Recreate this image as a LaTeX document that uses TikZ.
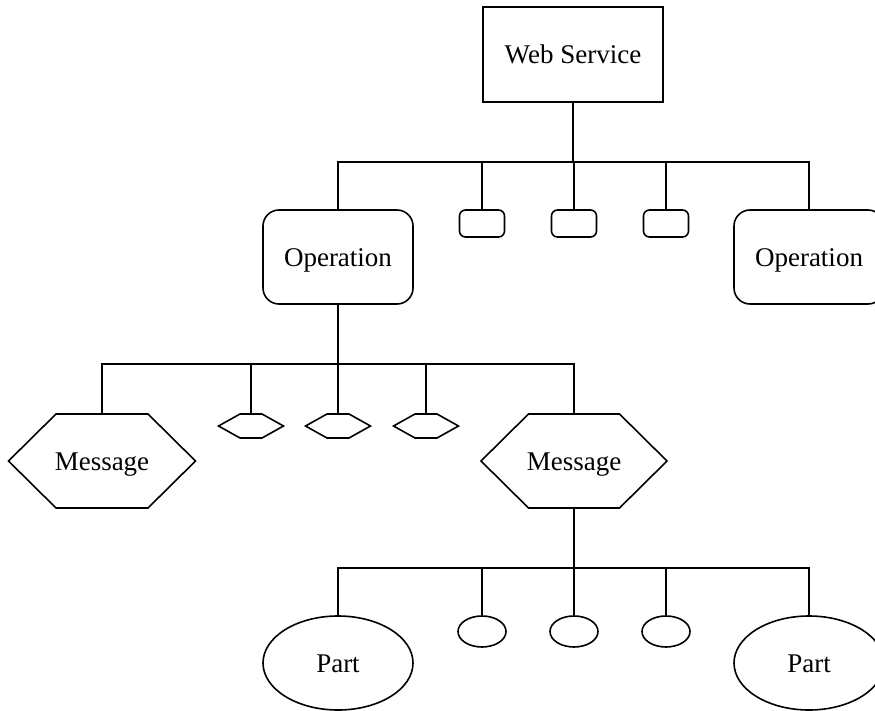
\documentclass[tikz,border=0pt]{standalone}
\usepackage{fontspec}
\setmainfont{Liberation Serif}
\usetikzlibrary{shapes.geometric}

% hexagon outline round an invisible node: name, half width, half height, half top edge
\newcommand\hexoutline[4]{%
  \draw[wire, shift={(#1.center)}]
    (-#2,0) -- (-#4,-#3) -- (#4,-#3) -- (#2,0) -- (#4,#3) -- (-#4,#3) -- cycle;}

\tikzset{
  wire/.style={line width=1.6pt, line join=miter},
  lbl/.style={font=\fontsize{27}{31}\selectfont, text height=18pt, text depth=0pt, inner sep=0pt},
  svcbox/.style={wire, draw, rectangle, minimum width=180pt, minimum height=95pt, lbl},
  opbox/.style={wire, draw, rectangle, rounded corners=16pt, minimum width=150pt, minimum height=94pt, lbl},
  opstub/.style={wire, draw, rectangle, rounded corners=6pt, minimum width=45pt, minimum height=27pt, inner sep=0pt},
  msghex/.style={lbl, minimum width=187pt, minimum height=94pt},
  msgstub/.style={inner sep=0pt, minimum width=65pt, minimum height=24pt},
  partell/.style={wire, draw, ellipse, minimum width=150pt, minimum height=94pt, lbl},
  partstub/.style={wire, draw, ellipse, minimum width=48pt, minimum height=31pt, inner sep=0pt},
}

\begin{document}
\begin{tikzpicture}[x=1pt, y=-1pt]
\useasboundingbox (0,0) rectangle (875,711);
\clip (0,0) rectangle (875,711);

% service level
\node[svcbox] (ws) at (573,54.5) {Web Service};

% operation level
\node[opbox]  (opL) at (338,257) {Operation};
\node[opstub] (o1)  at (482,223.5) {};
\node[opstub] (o2)  at (574,223.5) {};
\node[opstub] (o3)  at (666,223.5) {};
\node[opbox]  (opR) at (809,257) {Operation};

% message level
\node[msghex]  (mL) at (102,461) {Message};
\node[msgstub] (m1) at (251,426) {};
\node[msgstub] (m2) at (338,426) {};
\node[msgstub] (m3) at (426,426) {};
\node[msghex]  (mR) at (574,461) {Message};
\hexoutline{mL}{93.5}{47}{46}
\hexoutline{m1}{32.5}{12}{11}
\hexoutline{m2}{32.5}{12}{11}
\hexoutline{m3}{32.5}{12}{11}
\hexoutline{mR}{93}{47}{45.5}

% part level
\node[partell]  (pL) at (338,663) {Part};
\node[partstub] (p1) at (482,631.5) {};
\node[partstub] (p2) at (574,631.5) {};
\node[partstub] (p3) at (666,631.5) {};
\node[partell]  (pR) at (809,663) {Part};

% tree connectors through the bus junctions
\coordinate (j1) at (573,162);
\coordinate (j2) at (338,364);
\coordinate (j3) at (574,568);

\draw[wire] (ws.south) -- (j1);
\foreach \c in {opL,o1,o2,o3,opR} \draw[wire] (j1) -| (\c.north);

\draw[wire] (opL.south) -- (j2);
\foreach \c in {mL,m1,m2,m3,mR} \draw[wire] (j2) -| (\c.north);

\draw[wire] (mR.south) -- (j3);
\foreach \c in {pL,p1,p2,p3,pR} \draw[wire] (j3) -| (\c.north);
\end{tikzpicture}
\end{document}
